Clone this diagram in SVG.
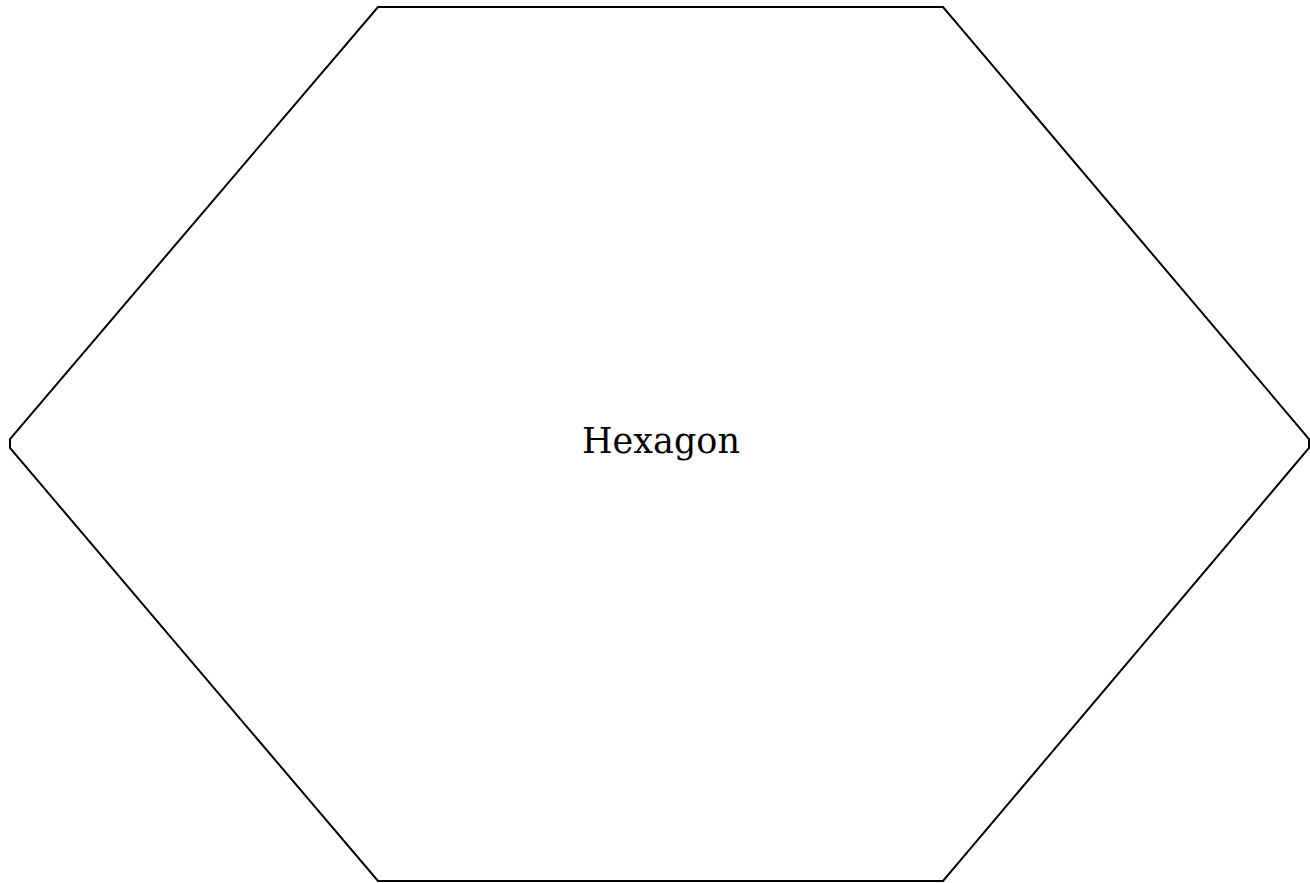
<svg xmlns="http://www.w3.org/2000/svg" width="1310" height="883" viewBox="0 0 1310 883">
<style>
.shape{fill:#ffffff;stroke:#000000;stroke-width:2;stroke-linejoin:miter}
.label{font-family:"DejaVu Serif","Liberation Serif",serif;font-size:35px;fill:#000000;text-anchor:middle}
</style>
<rect width="1310" height="883" fill="#ffffff"/>
<g id="hexagon">
<polygon class="shape" points="378,7 943,7 1309,439 1309,448 943,881 378,881 10,448 10,439"/>
<text class="label" x="661" y="453">Hexagon</text>
</g>
<g id="connectors"/>
</svg>
